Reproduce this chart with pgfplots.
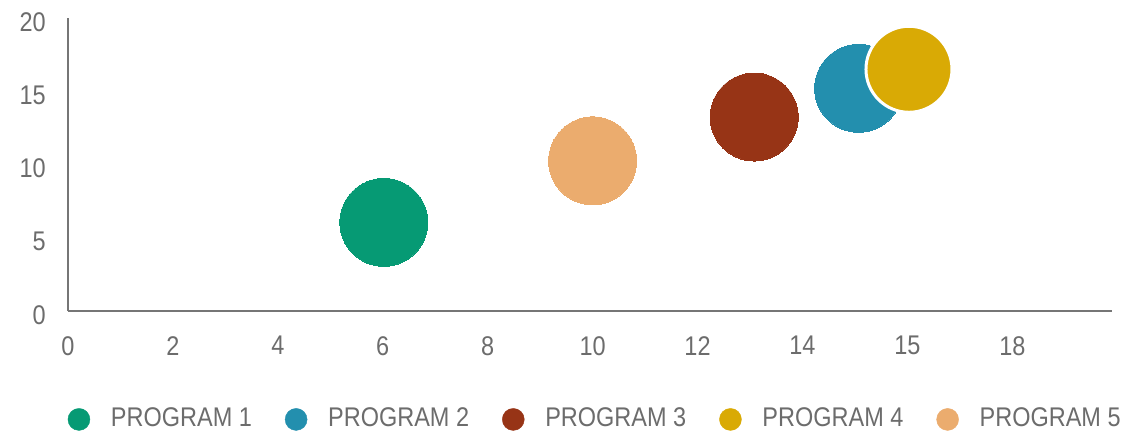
\documentclass[border=0pt]{standalone}
\usepackage{fontspec}
\setmainfont{Liberation Sans}[FakeStretch=0.87]
\usepackage{pgfplots}
\pgfplotsset{compat=1.18}
\definecolor{pone}{RGB}{6,154,116}
\definecolor{ptwo}{RGB}{35,143,174}
\definecolor{pthree}{RGB}{151,52,22}
\definecolor{pfour}{RGB}{217,170,5}
\definecolor{pfive}{RGB}{235,172,110}
\definecolor{axgray}{RGB}{118,118,118}
\definecolor{txgray}{RGB}{108,108,108}
\begin{document}
\fontsize{27pt}{32pt}\selectfont
\begin{tikzpicture}
\begin{axis}[name=ax, scale only axis, width=1044pt, height=293pt,
  xmin=0, xmax=19.9, ymin=0, ymax=20,
  axis lines=left, axis line style={draw=axgray, line width=2pt, -},
  tick style={draw=none},
  xtick={0,2,4,6,8,10,12,14,16,18},
  xticklabels={0,2,4,6,8,10,12,14,15,18},
  ytick={0,5,10,15,20},
  yticklabels={0,5,10,15,20},
  ticklabel style={text=txgray, font=\fontsize{27pt}{32pt}\selectfont},
  xticklabel style={yshift=-14pt},
  yticklabel style={xshift=-11pt, yshift=-4pt},
  clip=false,
  legend columns=5,
  legend style={at={(0.504,-0.37)}, anchor=center, draw=none, fill=none,
    font=\fontsize{27pt}{32pt}\selectfont, text=txgray,
    /tikz/every odd column/.append style={column sep=0pt},
    /tikz/every even column/.append style={column sep=33pt},
    nodes={inner sep=0pt},
    inner sep=0pt},
  legend cell align=left,
]
\addplot[only marks, color=pone, mark=*, mark size=44pt, mark options={fill=pone, draw=pone, line width=0pt},
  legend image code/.code={\fill[pone] (11pt,0pt) circle (11pt); \path[draw=none,fill=none] (0pt,-11pt) rectangle (43pt,11pt);}]
  coordinates {(6.02,6.05)};
\addlegendentry{PROGRAM 1}
\addplot[only marks, color=ptwo, mark=*, mark size=44pt, mark options={fill=ptwo, draw=ptwo, line width=0pt},
  legend image code/.code={\fill[ptwo] (11pt,0pt) circle (11pt); \path[draw=none,fill=none] (0pt,-11pt) rectangle (43pt,11pt);}]
  coordinates {(15.07,15.2)};
\addlegendentry{PROGRAM 2}
\addplot[only marks, color=pthree, mark=*, mark size=44pt, mark options={fill=pthree, draw=pthree, line width=0pt},
  legend image code/.code={\fill[pthree] (11pt,0pt) circle (11pt); \path[draw=none,fill=none] (0pt,-11pt) rectangle (43pt,11pt);}]
  coordinates {(13.08,13.24)};
\addlegendentry{PROGRAM 3}
\addplot[only marks, color=pfour, mark=*, mark size=43pt, mark options={fill=pfour, draw=white, line width=3pt},
  legend image code/.code={\fill[pfour] (11pt,0pt) circle (11pt); \path[draw=none,fill=none] (0pt,-11pt) rectangle (43pt,11pt);}]
  coordinates {(16.03,16.5)};
\addlegendentry{PROGRAM 4}
\addplot[only marks, color=pfive, mark=*, mark size=44pt, mark options={fill=pfive, draw=pfive, line width=0pt},
  legend image code/.code={\fill[pfive] (11pt,0pt) circle (11pt); \path[draw=none,fill=none] (0pt,-11pt) rectangle (43pt,11pt);}]
  coordinates {(10,10.25)};
\addlegendentry{PROGRAM 5}
\end{axis}
\path ([xshift=-68pt,yshift=-126pt]ax.south west) rectangle ([xshift=11pt,yshift=18pt]ax.north east);
\end{tikzpicture}
\end{document}
